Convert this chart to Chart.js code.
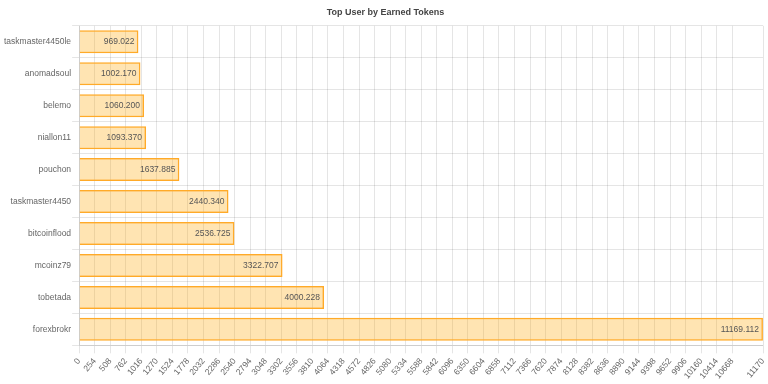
<!DOCTYPE html>
<html>
<head>
<meta charset="utf-8">
<script src="https://cdn.jsdelivr.net/npm/chart.js@4"></script>
<style>
  html, body { margin: 0; padding: 0; background: #fff; }
  #wrap { width: 768px; height: 384px; }
</style>
</head>
<body>
<div id="wrap"><canvas id="myChart"></canvas></div>
<script>
const users = [
    "taskmaster4450le",
    "anomadsoul",
    "belemo",
    "niallon11",
    "pouchon",
    "taskmaster4450",
    "bitcoinflood",
    "mcoinz79",
    "tobetada",
    "forexbrokr",
];
const tokens = [969.022, 1002.170, 1060.200, 1093.370, 1637.885, 2440.340, 2536.725, 3322.707, 4000.228, 11169.112];
const axisMax = 11170;
const axisStep = 254;

Chart.defaults.font.family = "'Liberation Sans', Arial, sans-serif";
Chart.defaults.font.size = 8.5;
Chart.defaults.color = '#666';

// draws the value at the end of each bar
const valueLabels = {
    id: 'valueLabels',
    afterDatasetsDraw(chart)
    {
        const ctx = chart.ctx;
        const meta = chart.getDatasetMeta(0);
        ctx.save();
        ctx.font = "8.5px 'Liberation Sans', Arial, sans-serif";
        ctx.fillStyle = '#555';
        ctx.textAlign = 'right';
        ctx.textBaseline = 'middle';
        meta.data.forEach((bar, i) => {
            ctx.fillText(tokens[i].toFixed(3), bar.x - 4, bar.y);
        });
        ctx.restore();
    }
};

const data =
{
    labels: users,
    datasets:
    [
        {
            label: 'Earned Tokens',
            backgroundColor: 'rgba(255, 165, 0, 0.3)',
            borderColor: 'rgb(255, 170, 40)',
            borderWidth: 1.5,
            data: tokens,
        }
    ]
};

const config =
{
    type: 'bar',
    data: data,
    plugins: [valueLabels],
    options: {
        indexAxis: 'y',
        responsive: true,
        maintainAspectRatio: false,
        animation: false,
        layout: { padding: { left: 3, right: 0, top: 0, bottom: 0 } },
        plugins:
        {
            legend: { display: false },
            tooltip: { enabled: false },
            title:
            {
                display: true,
                text: 'Top User by Earned Tokens',
                color: '#444',
                font: { size: 9, weight: 'bold' },
                padding: { top: 7, bottom: 8 }
            }
        },
        scales:
        {
            x:
            {
                min: 0,
                max: axisMax,
                grid: { color: 'rgba(0,0,0,0.1)' },
                afterBuildTicks: function (axis)
                {
                    var ticks = [];
                    for (var v = 0; v + axisStep < axisMax; v += axisStep) {
                        ticks.push({ value: v });
                    }
                    ticks.push({ value: axisMax });
                    axis.ticks = ticks;
                },
                afterFit: function (axis) { axis.paddingRight = 5; },
                ticks: {
                    autoSkip: false,
                    maxRotation: 50,
                    minRotation: 50,
                    callback: function (value) { return String(value); }
                }
            },
            y:
            {
                grid: { color: 'rgba(0,0,0,0.1)', offset: true, tickLength: 7 },
                ticks: { padding: 1 }
            }
        }
    },
};

new Chart(document.getElementById('myChart'), config);
</script>
</body>
</html>
